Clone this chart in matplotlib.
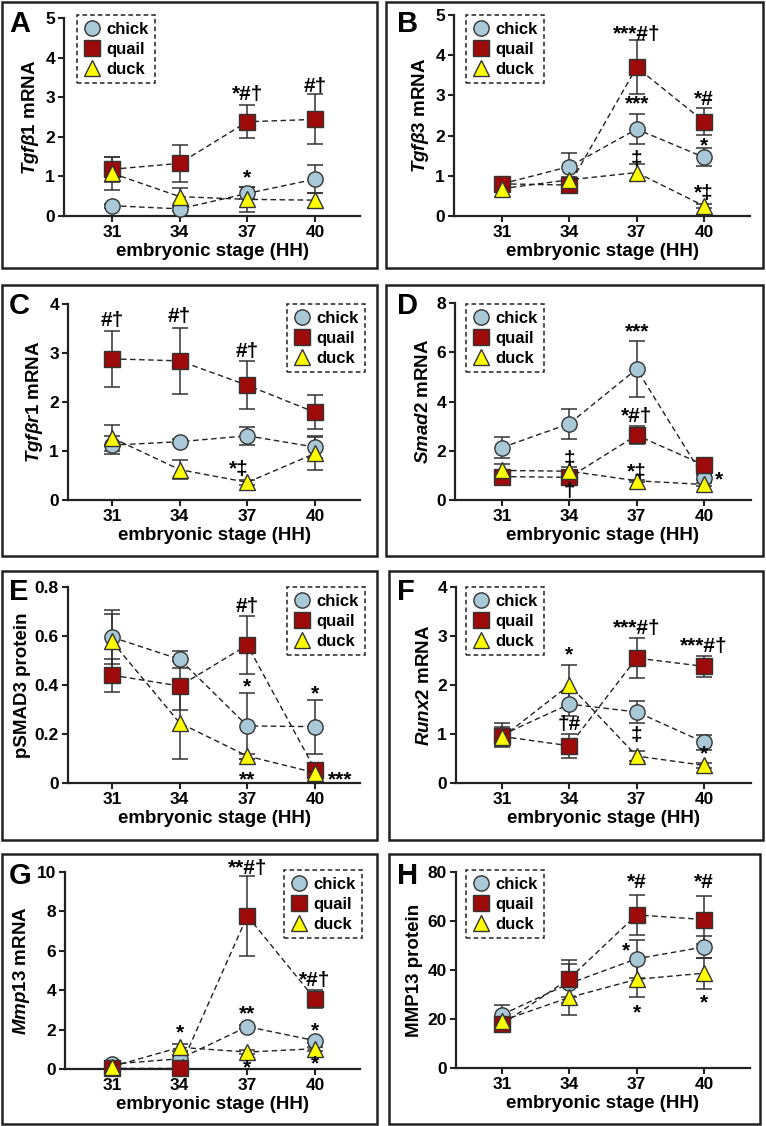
"""Eight-panel figure: TGF-beta pathway and MMP13 expression in chick, quail and duck
across embryonic stages HH31-HH40 (mean +/- error)."""

import matplotlib
matplotlib.use("Agg")
import matplotlib.pyplot as plt
from matplotlib.lines import Line2D
from matplotlib.patches import Rectangle

plt.rcParams["font.family"] = ["Liberation Sans", "DejaVu Sans"]
plt.rcParams["font.weight"] = "bold"
plt.rcParams["mathtext.fontset"] = "custom"
plt.rcParams["mathtext.it"] = "Liberation Sans:italic:bold"
plt.rcParams["mathtext.rm"] = "Liberation Sans:bold"

# ---------------- data ----------------
stages = [31, 34, 37, 40]
species = ["chick", "quail", "duck"]

# A: Tgfb1 mRNA
a_chick = [0.26, 0.18, 0.57, 0.93]
a_chick_err = [0.05, 0.05, 0.15, 0.35]
a_quail = [1.18, 1.33, 2.38, 2.44]
a_quail_err = [0.32, 0.47, 0.42, 0.63]
a_duck = [1.08, 0.49, 0.42, 0.40]
a_duck_err = [0.42, 0.22, 0.31, 0.19]

# B: Tgfb3 mRNA
b_chick = [0.80, 1.23, 2.16, 1.46]
b_chick_err = [0.05, 0.33, 0.37, 0.22]
b_quail = [0.80, 0.77, 3.70, 2.35]
b_quail_err = [0.05, 0.08, 0.67, 0.34]
b_duck = [0.68, 0.90, 1.08, 0.25]
b_duck_err = [0.05, 0.08, 0.22, 0.05]

# C: Tgfbr1 mRNA
c_chick = [1.12, 1.19, 1.31, 1.08]
c_chick_err = [0.18, 0.05, 0.18, 0.22]
c_quail = [2.88, 2.84, 2.34, 1.79]
c_quail_err = [0.57, 0.68, 0.49, 0.35]
c_duck = [1.27, 0.62, 0.36, 0.95]
c_duck_err = [0.27, 0.19, 0.05, 0.33]

# D: Smad2 mRNA
d_chick = [2.13, 3.10, 5.32, 0.90]
d_chick_err = [0.41, 0.61, 1.12, 0.10]
d_quail = [0.95, 0.92, 2.63, 1.42]
d_quail_err = [0.10, 0.30, 0.37, 0.10]
d_duck = [1.20, 1.17, 0.78, 0.63]
d_duck_err = [0.25, 0.17, 0.05, 0.05]

# E: pSMAD3 protein
e_chick = [0.595, 0.505, 0.233, 0.230]
e_chick_err = [0.11, 0.035, 0.134, 0.11]
e_quail = [0.44, 0.396, 0.563, 0.055]
e_quail_err = [0.067, 0.10, 0.117, 0.01]
e_duck = [0.578, 0.245, 0.11, 0.042]
e_duck_err = [0.11, 0.145, 0.01, 0.01]

# F: Runx2 mRNA
f_chick = [0.98, 1.61, 1.45, 0.83]
f_chick_err = [0.24, 0.25, 0.22, 0.15]
f_quail = [0.95, 0.76, 2.55, 2.38]
f_quail_err = [0.20, 0.24, 0.41, 0.21]
f_duck = [0.93, 2.00, 0.55, 0.36]
f_duck_err = [0.15, 0.40, 0.10, 0.05]

# G: Mmp13 mRNA
g_chick = [0.25, 0.52, 2.15, 1.44]
g_chick_err = [0.10, 0.15, 0.10, 0.10]
g_quail = [0.03, 0.03, 7.77, 3.55]
g_quail_err = [0.05, 0.05, 2.05, 0.44]
g_duck = [0.12, 1.10, 0.86, 1.03]
g_duck_err = [0.05, 0.17, 0.10, 0.10]

# H: MMP13 protein
h_chick = [21.8, 34.5, 44.6, 49.4]
h_chick_err = [3.8, 7.8, 7.8, 4.5]
h_quail = [17.8, 36.5, 62.5, 60.6]
h_quail_err = [1.5, 7.4, 8.1, 9.8]
h_duck = [19.3, 28.8, 36.2, 38.7]
h_duck_err = [1.5, 7.2, 7.3, 6.3]

# significance marks: (stage, y value, text, horizontal shift in points)
a_marks = [(37, 2.82, "*#†", 0), (40, 3.02, "#†", 0), (37, 0.72, "*", 0)]
b_marks = [(37, 4.28, "***#†", 0), (37, 2.55, "***", 0), (37, 1.18, "‡", 0),
           (40, 2.65, "*#", 0), (40, 1.5, "*", 0), (40, 0.33, "*‡", 0)]
c_marks = [(31, 3.47, "#†", 0), (34, 3.55, "#†", 0), (37, 2.83, "#†", 0),
           (37, 0.42, "*‡", -6)]
d_marks = [(37, 6.45, "***", 0), (37, 3.0, "*#†", 0), (34, 1.25, "‡", 0),
           (34, -0.05, "†", 0), (37, 0.75, "*‡", 0), (40, 0.45, "*", 11)]
e_marks = [(37, 0.68, "#†", 0), (37, 0.355, "*", 0), (37, -0.025, "**", 0),
           (40, 0.325, "*", 0), (40, -0.025, "***", 18)]
f_marks = [(34, 2.43, "*", 0), (34, 1.0, "†#", 0), (37, 2.95, "***#†", 0),
           (40, 2.6, "***#†", 0), (37, 0.77, "‡", 0), (40, 0.4, "*", 0)]
g_marks = [(37, 9.7, "**#†", 0), (40, 4.0, "*#†", 0), (37, 2.3, "**", 0),
           (34, 1.35, "*", 0), (40, 1.45, "*", 0), (37, -0.42, "*", 0),
           (40, -0.2, "*", 0)]
h_marks = [(37, 72.0, "*#", 0), (40, 72.0, "*#", 0), (37, 44.0, "*", -8),
           (37, 18.5, "*", 0), (40, 22.5, "*", 0)]

panels = [
    dict(letter="A", ylabel=r"$\mathit{Tgfβ1}$ mRNA", ymax=5,
         yticks=[0, 1, 2, 3, 4, 5], yticklabels=["0", "1", "2", "3", "4", "5"],
         series=[(a_chick, a_chick_err), (a_quail, a_quail_err), (a_duck, a_duck_err)],
         marks=a_marks),
    dict(letter="B", ylabel=r"$\mathit{Tgfβ3}$ mRNA", ymax=5,
         yticks=[0, 1, 2, 3, 4, 5], yticklabels=["0", "1", "2", "3", "4", "5"],
         series=[(b_chick, b_chick_err), (b_quail, b_quail_err), (b_duck, b_duck_err)],
         marks=b_marks),
    dict(letter="C", ylabel=r"$\mathit{Tgfβr1}$ mRNA", ymax=4,
         yticks=[0, 1, 2, 3, 4], yticklabels=["0", "1", "2", "3", "4"],
         series=[(c_chick, c_chick_err), (c_quail, c_quail_err), (c_duck, c_duck_err)],
         marks=c_marks),
    dict(letter="D", ylabel=r"$\mathit{Smad2}$ mRNA", ymax=8,
         yticks=[0, 2, 4, 6, 8], yticklabels=["0", "2", "4", "6", "8"],
         series=[(d_chick, d_chick_err), (d_quail, d_quail_err), (d_duck, d_duck_err)],
         marks=d_marks),
    dict(letter="E", ylabel="pSMAD3 protein", ymax=0.8,
         yticks=[0, 0.2, 0.4, 0.6, 0.8], yticklabels=["0", "0.2", "0.4", "0.6", "0.8"],
         series=[(e_chick, e_chick_err), (e_quail, e_quail_err), (e_duck, e_duck_err)],
         marks=e_marks),
    dict(letter="F", ylabel=r"$\mathit{Runx2}$ mRNA", ymax=4,
         yticks=[0, 1, 2, 3, 4], yticklabels=["0", "1", "2", "3", "4"],
         series=[(f_chick, f_chick_err), (f_quail, f_quail_err), (f_duck, f_duck_err)],
         marks=f_marks),
    dict(letter="G", ylabel=r"$\mathit{Mmp13}$ mRNA", ymax=10,
         yticks=[0, 2, 4, 6, 8, 10], yticklabels=["0", "2", "4", "6", "8", "10"],
         series=[(g_chick, g_chick_err), (g_quail, g_quail_err), (g_duck, g_duck_err)],
         marks=g_marks),
    dict(letter="H", ylabel="MMP13 protein", ymax=80,
         yticks=[0, 20, 40, 60, 80], yticklabels=["0", "20", "40", "60", "80"],
         series=[(h_chick, h_chick_err), (h_quail, h_quail_err), (h_duck, h_duck_err)],
         marks=h_marks),
]

# ---------------- layout (pixels) ----------------
W, H = 766, 1126
# axes: left spine x, right end x, top y, zero y
axes_px = [(64, 360, 18, 216), (454, 750, 15, 216),
           (68, 360, 304, 500), (455, 751, 303, 500),
           (68, 360, 587, 783), (456, 751, 587, 783),
           (65, 360, 872, 1069), (456, 750, 872, 1068)]
# x pixel of stage 31 and stage 40 in each column
col_ticks = [(112, 315), (502, 704)]
# panel frames: left, top, right, bottom
frames_px = [(2, 2, 377, 268), (386, 2, 763, 268),
             (2, 285, 377, 556), (386, 285, 763, 556),
             (2, 571, 377, 840), (389, 571, 763, 840),
             (2, 854, 377, 1124), (389, 854, 760, 1124)]
# legend upper-left corners
legend_px = [(77, 15), (466, 15), (287, 304), (466, 304),
             (287, 587), (466, 587), (284, 870), (466, 870)]
letter_px = [(9, 10), (397, 10), (9, 292), (397, 292),
             (9, 578), (397, 578), (9, 862), (397, 862)]

colors = {"chick": "#a9c8d8", "quail": "#9c0a0a", "duck": "#ffff00"}
markers = {"chick": "o", "quail": "s", "duck": "^"}
msize = {"chick": 11, "quail": 11, "duck": 11.5}

fig = plt.figure(figsize=(W / 100, H / 100), dpi=100)

for i, p in enumerate(panels):
    left, right, top, zero = axes_px[i]
    x31, x40 = col_ticks[i % 2]
    ppu = (x40 - x31) / 9.0
    ax = fig.add_axes([left / W, 1 - zero / H, (right - left) / W, (zero - top) / H])
    ax.set_xlim(31 - (x31 - left) / ppu, 40 + (right - x40) / ppu)
    ax.set_ylim(0, p["ymax"])

    for name, (vals, errs) in zip(species, p["series"]):
        ax.errorbar(stages, vals, yerr=errs, fmt="none", ecolor="#333333",
                    elinewidth=1.1, capsize=5.5, capthick=1.1, clip_on=False, zorder=2)
        ax.plot(stages, vals, linestyle=(0, (4, 2.5)), color="#222222", linewidth=1.0,
                marker=markers[name], markersize=msize[name],
                markerfacecolor=colors[name], markeredgecolor="#333333",
                markeredgewidth=1.0, clip_on=False, zorder=3)

    for st, yv, txt, dx in p["marks"]:
        ax.annotate(txt, (st, yv), xytext=(dx, 0), textcoords="offset points",
                    ha="center", va="bottom", fontsize=15, fontweight="bold",
                    annotation_clip=False, zorder=5)

    ax.spines["top"].set_visible(False)
    ax.spines["right"].set_visible(False)
    for s in ("left", "bottom"):
        ax.spines[s].set_linewidth(1.6)
        ax.spines[s].set_color("#222222")
    ax.set_xticks(stages)
    ax.set_xticklabels([str(s) for s in stages])
    ax.set_yticks(p["yticks"])
    ax.set_yticklabels(p["yticklabels"])
    ax.tick_params(width=1.5, length=4.5, labelsize=12.5, color="#222222", pad=2)
    for lab in ax.get_xticklabels() + ax.get_yticklabels():
        lab.set_fontweight("bold")
    ax.set_xlabel("embryonic stage (HH)", fontsize=13.5, fontweight="bold", labelpad=2)
    ax.set_ylabel(p["ylabel"], fontsize=13.5, fontweight="bold", labelpad=3)

    handles = [Line2D([], [], linestyle="none", marker=markers[n], markersize=msize[n],
                      markerfacecolor=colors[n], markeredgecolor="#333333",
                      markeredgewidth=1.0) for n in species]
    lx, ly = legend_px[i]
    leg = ax.legend(handles, species, loc="upper left",
                    bbox_to_anchor=(lx / W, 1 - ly / H), bbox_transform=fig.transFigure,
                    prop={"size": 12, "weight": "bold"}, handlelength=1.0,
                    handletextpad=0.35, labelspacing=0.3, borderpad=0.4,
                    borderaxespad=0, fancybox=False, framealpha=1)
    fr = leg.get_frame()
    fr.set_linestyle((0, (3, 2)))
    fr.set_edgecolor("#222222")
    fr.set_linewidth(1.1)

    fx0, fy0, fx1, fy1 = frames_px[i]
    fig.patches.append(Rectangle((fx0 / W, 1 - fy1 / H), (fx1 - fx0) / W, (fy1 - fy0) / H,
                                 transform=fig.transFigure, fill=False,
                                 edgecolor="#222222", linewidth=1.8))
    tx, ty = letter_px[i]
    fig.text(tx / W, 1 - ty / H, p["letter"], fontsize=21, fontweight="bold",
             ha="left", va="top")

fig.savefig("out.png", dpi=100, facecolor="white")
